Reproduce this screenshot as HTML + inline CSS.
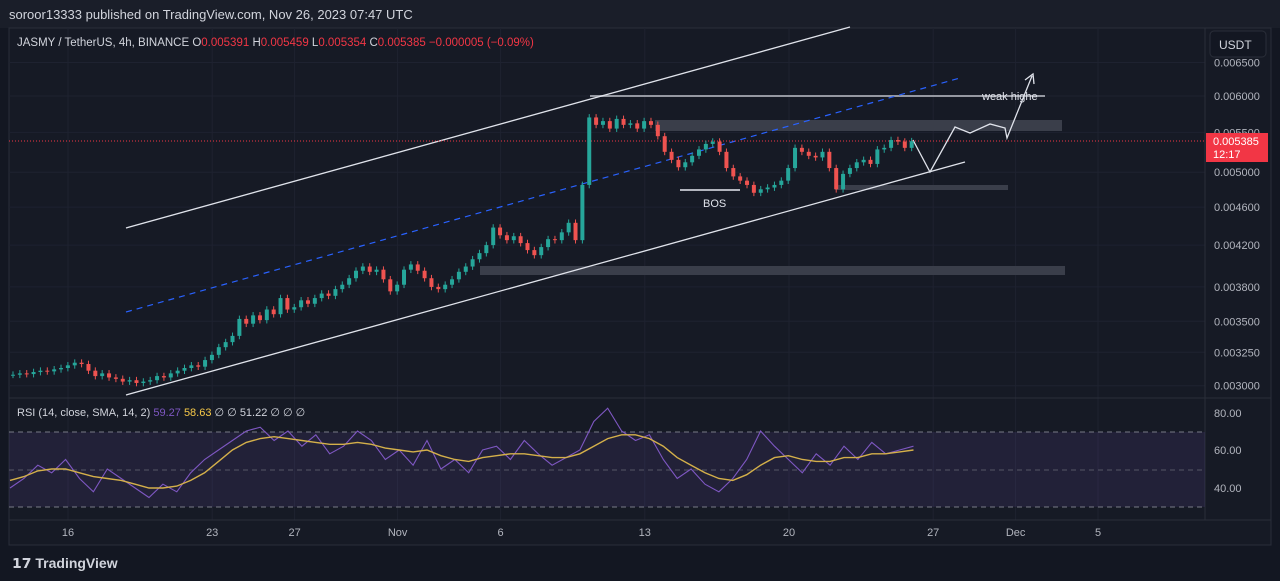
<!DOCTYPE html>
<html><head><meta charset="utf-8"><style>
body{margin:0;width:1280px;height:581px;background:#131722;overflow:hidden;font-family:"Liberation Sans",sans-serif;}
svg{position:absolute;left:0;top:0}
</style></head><body>
<svg width="1280" height="581">
<rect x="0" y="0" width="1280" height="581" fill="#131722"/>
<rect x="0" y="0" width="1280" height="28" fill="#1a1e29"/>
<text x="9" y="19" fill="#d1d4dc" font-size="13">soroor13333 published on TradingView.com, Nov 26, 2023 07:47 UTC</text>
<rect x="9" y="28" width="1262" height="517" fill="#161a25" stroke="#2a2e39"/>
<g id="grid" stroke="#1e2230"></g>
<line x1="9" y1="398" x2="1271" y2="398" stroke="#2a2e39"/>
<line x1="1205" y1="28" x2="1205" y2="520" stroke="#2a2e39"/>
<line x1="9" y1="520" x2="1271" y2="520" stroke="#2a2e39"/>
<text x="17" y="46" font-size="11.5" fill="#d1d4dc">JASMY / TetherUS, 4h, BINANCE  O<tspan fill="#f23645">0.005391</tspan>  H<tspan fill="#f23645">0.005459</tspan>  L<tspan fill="#f23645">0.005354</tspan>  C<tspan fill="#f23645">0.005385</tspan>  <tspan fill="#f23645">−0.000005 (−0.09%)</tspan></text>
<rect x="1210" y="31" width="56" height="26" rx="4" fill="#131722" stroke="#2a2e39"/>
<text x="1219" y="49" font-size="12" fill="#d1d4dc">USDT</text>
<!-- drawings -->
<rect x="655" y="120" width="407" height="11" fill="#3a3e4a"/>
<rect x="835" y="185" width="173" height="5" fill="#3a3e4a"/>
<rect x="480" y="266" width="585" height="9" fill="#3a3e4a"/>
<line x1="590" y1="96" x2="1045" y2="96" stroke="#9598a1" stroke-width="2"/>
<line x1="126" y1="228" x2="850" y2="27" stroke="#e0e3eb" stroke-width="1.3"/>
<line x1="126" y1="395" x2="965" y2="162" stroke="#e0e3eb" stroke-width="1.3"/>
<line x1="126" y1="312" x2="960" y2="78" stroke="#2962ff" stroke-width="1.2" stroke-dasharray="6,5"/>
<line x1="680" y1="190" x2="740" y2="190" stroke="#b2b5be" stroke-width="2"/>
<text x="703" y="207" font-size="11" fill="#e0e3eb">BOS</text>
<text x="982" y="100" font-size="11" fill="#e0e3eb">weak highe</text>
<polyline points="913,140 930,172 955,127 970,133 990,124 1005,128 1007,138 1032,76" fill="none" stroke="#e0e3eb" stroke-width="1.3"/>
<polyline points="1025,80 1033,74 1034,84" fill="none" stroke="#e0e3eb" stroke-width="1.3"/>
<line x1="9" y1="141" x2="1205" y2="141" stroke="#f23645" stroke-dasharray="1,2"/>
<g id="candles"></g>
<g id="yaxis" font-size="11" fill="#b2b5be"></g>
<rect x="1206" y="133" width="62" height="29" fill="#f23645"/>
<text x="1213" y="145" font-size="11" fill="#fff">0.005385</text>
<text x="1213" y="158" font-size="11" fill="#fff">12:17</text>
<!-- RSI -->
<rect x="9" y="432" width="1196" height="75" fill="#7e57c2" fill-opacity="0.12"/>
<line x1="9" y1="432" x2="1205" y2="432" stroke="#787b86" stroke-dasharray="5,4"/>
<line x1="9" y1="470" x2="1205" y2="470" stroke="#787b86" stroke-dasharray="5,4" stroke-opacity="0.6"/>
<line x1="9" y1="507" x2="1205" y2="507" stroke="#787b86" stroke-dasharray="5,4"/>
<text x="17" y="416" font-size="11" fill="#d1d4dc">RSI (14, close, SMA, 14, 2)  <tspan fill="#7e57c2">59.27</tspan>  <tspan fill="#f7c948">58.63</tspan>  ∅  ∅  <tspan fill="#d1d4dc">51.22</tspan>  ∅  ∅  ∅</text>
<polyline id="rsi" fill="none" stroke="#7e57c2" stroke-width="1.1"/>
<polyline id="sma" fill="none" stroke="#d4b04a" stroke-width="1.4"/>
<text x="1214" y="417" font-size="11" fill="#b2b5be">80.00</text>
<text x="1214" y="454" font-size="11" fill="#b2b5be">60.00</text>
<text x="1214" y="492" font-size="11" fill="#b2b5be">40.00</text>
<g id="xaxis" font-size="11" fill="#b2b5be"></g>
<text x="12" y="568" font-size="14" fill="#d1d4dc" font-weight="bold">𝟭𝟳 TradingView</text>
</svg>
<script>
const closes=[3080,3090,3085,3100,3110,3105,3120,3130,3150,3170,
3160,3110,3070,3090,3060,3050,3030,3040,3020,3030,
3040,3070,3060,3090,3110,3130,3150,3140,3190,3230,
3290,3330,3380,3520,3480,3550,3510,3600,3560,3700,
3600,3620,3680,3650,3700,3740,3720,3780,3820,3880,
3950,3990,3940,3960,3870,3760,3820,3960,4010,3950,
3880,3800,3780,3820,3870,3940,3990,4060,4120,4200,
4380,4300,4250,4290,4220,4150,4100,4180,4260,4250,
4330,4430,4250,4850,5700,5600,5650,5550,5680,5600,
5620,5550,5650,5600,5450,5250,5150,5060,5120,5200,
5280,5350,5380,5250,5050,4950,4900,4850,4760,4800,
4820,4850,4900,5050,5300,5250,5200,5180,5250,5050,
4800,4980,5050,5120,5150,5100,5280,5300,5400,5380,
5300,5385];
const priceTicks=[6500,6000,5500,5000,4600,4200,3800,3500,3250,3000];
const dateLabels=["16","23","27","Nov","6","13","20","27","Dec","5"];
const dateDays=[16,23,27,32,37,44,51,58,62,66];
const rsiVals=[40,45,52,48,55,45,38,50,45,40,35,42,38,48,55,60,65,70,72,65,70,62,68,58,62,70,65,55,60,52,65,50,55,48,60,62,55,65,58,52,56,60,75,82,70,65,68,55,45,50,42,38,45,55,70,62,55,48,58,52,62,55,64,58,60,62];
const smaVals=[44,46,49,50,50,48,46,45,44,42,40,40,41,44,48,54,60,64,66,67,66,65,64,63,63,64,63,61,60,59,60,57,55,54,56,57,58,58,57,56,56,58,62,66,68,68,66,62,56,52,48,45,44,47,52,56,57,55,54,54,56,56,58,58,59,60];
const NS='http://www.w3.org/2000/svg';
const py=p=>96+418*Math.log(6000/p);
const dx=d=>68+(d-16)*20.6;
const cx=i=>13+i*6.86;
const ry=v=>412+(80-v)*1.9;
const rx=i=>10+i*13.9;
function mk(t,a,par){const e=document.createElementNS(NS,t);for(const k in a)e.setAttribute(k,a[k]);document.getElementById(par).appendChild(e);return e;}
priceTicks.forEach(p=>{const y=py(p);if(y<60)return;
 const g=mk('line',{x1:9,x2:1205,y1:y,y2:y},'grid');
 
 
 const t=mk('text',{x:1214,y:y+4},'yaxis');t.textContent=(p/1e6).toFixed(6);
 
 });
dateLabels.forEach((l,i)=>{const x=dx(dateDays[i]);
 const g=mk('line',{x1:x,x2:x,y1:28,y2:520},'grid');
 
 
 const t=mk('text',{x:x,y:536,'text-anchor':'middle'},'xaxis');t.textContent=l;
 
 });
closes.forEach((c,i)=>{const o=i?closes[i-1]:c;const up=c>=o;const col=up?'#26a69a':'#ef5350';
 const hi=Math.max(o,c)*1.008,lo=Math.min(o,c)*0.992;const x=cx(i);
 const w=mk('line',{x1:x,x2:x,y1:py(hi),y2:py(lo),stroke:col},'candles');
 
 
 const y1=py(Math.max(o,c)),y2=py(Math.min(o,c));
 const b=mk('rect',{x:x-2,y:y1,width:4,height:Math.max(1,y2-y1),fill:col},'candles');
 
 });
document.getElementById('rsi').setAttribute('points',rsiVals.map((v,i)=>rx(i)+','+ry(v)).join(' '));
document.getElementById('sma').setAttribute('points',smaVals.map((v,i)=>rx(i)+','+ry(v)).join(' '));
</script>
</body></html>
